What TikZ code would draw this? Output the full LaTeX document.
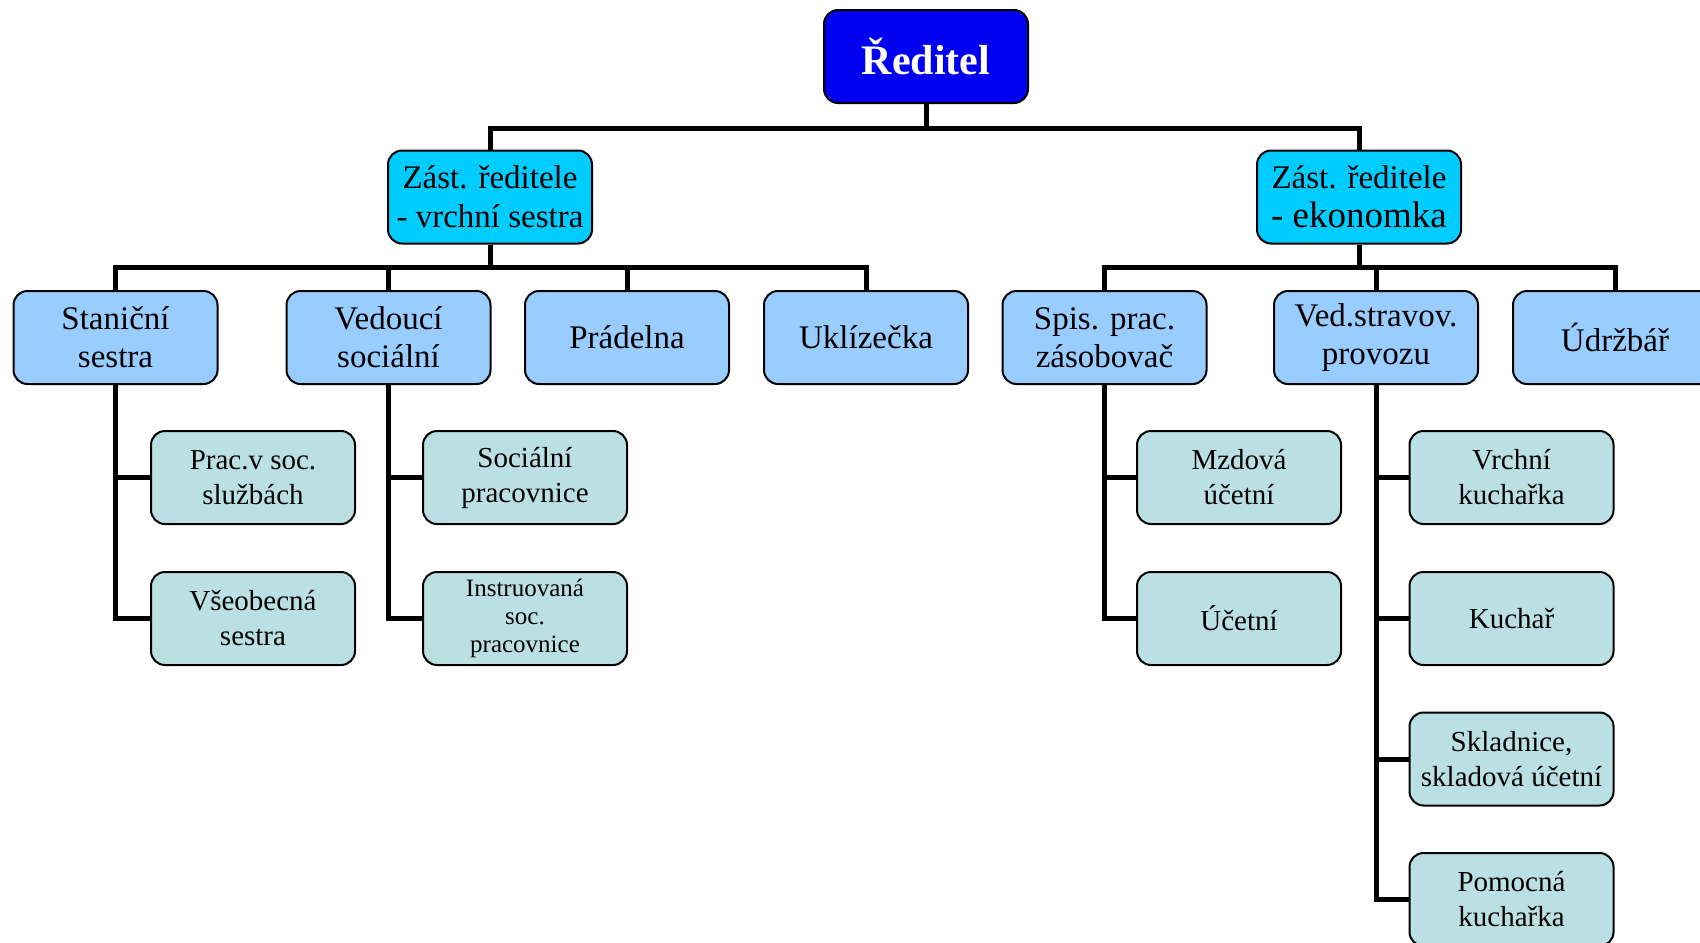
\documentclass[tikz,border=0pt]{standalone}
\usepackage{fontspec}
\setmainfont{Liberation Serif}
\begin{document}
\begin{tikzpicture}[x=0.5pt,y=-0.5pt,
    box/.style={draw=black,line width=1pt,rounded corners=7pt,align=center,
        minimum width=102pt,minimum height=46.5pt,inner sep=1pt},
    lvlboss/.style={box,fill=bossblue,text=white,font=\bfseries\fontsize{21}{24}\selectfont},
    lvldep/.style={box,fill=depcyan,font=\fontsize{16.5}{19.5}\selectfont},
    lvlhead/.style={box,fill=headblue,font=\fontsize{16.5}{19}\selectfont},
    lvlstaff/.style={box,fill=staffteal,font=\fontsize{14.5}{17.5}\selectfont},
    conn/.style={line width=2.5pt}]
    %barvy
    \definecolor{bossblue}{RGB}{0,0,240}
    \definecolor{depcyan}{RGB}{0,204,255}
    \definecolor{headblue}{RGB}{153,204,255}
    \definecolor{staffteal}{RGB}{187,224,227}

    \useasboundingbox (0,0) rectangle (1700,942);

    % reditel a zastupci
    \node[lvlboss] (red) at (926,56.5) {Ředitel};
    \node[lvldep] (zv) at (490,197) {Zást. ředitele\\- vrchní sestra};
    \node[lvldep] (ze) at (1359,197) {Zást. ředitele\\{\fontsize{18.5}{20}\selectfont - ekonomka}\hspace{6pt}};

    % vedouci useku
    \node[lvlhead] (stan) at (115.5,337.5) {Staniční\\sestra};
    \node[lvlhead] (ved) at (388.5,337.5) {Vedoucí\\sociální};
    \node[lvlhead] (prad) at (627,337.5) {Prádelna};
    \node[lvlhead] (ukl) at (866,337.5) {Uklízečka};
    \node[lvlhead] (spis) at (1104.5,337.5) {Spis. prac.\\zásobovač};
    \node[lvlhead] (stra) at (1376,337.5) {Ved.stravov.\\provozu};
    \node[lvlhead] (udr) at (1615,337.5) {Údržbář};

    % pracovnici
    \node[lvlstaff] (prac) at (253,477.5) {Prac.v soc.\\službách};
    \node[lvlstaff] (vseo) at (253,618.5) {Všeobecná\\sestra};
    \node[lvlstaff] (soc) at (525,477.5) {Sociální\\pracovnice};
    \node[lvlstaff,font=\fontsize{12.5}{14}\selectfont] (instr) at (525,618.5) {Instruovaná\\soc.\\pracovnice};
    \node[lvlstaff] (mzd) at (1239,477.5) {Mzdová\\účetní};
    \node[lvlstaff] (uce) at (1239,618.5) {Účetní};
    \node[lvlstaff] (vrk) at (1511.5,477.5) {Vrchní\\kuchařka};
    \node[lvlstaff] (kuch) at (1511.5,618.5) {Kuchař};
    \node[lvlstaff] (skl) at (1511.5,759) {Skladnice,\\skladová účetní};
    \node[lvlstaff] (pom) at (1511.5,899.5) {Pomocná\\kuchařka};

    % spojnice
    \coordinate (bus1) at (926,128);
    \coordinate (bus2) at (490,267);
    \coordinate (bus3) at (1359,267);
    \draw[conn] (red.south) -- (red.south |- bus1) -| (zv.north);
    \draw[conn] (red.south |- bus1) -| (ze.north);
    \foreach \n in {stan,ved,prad,ukl}
        \draw[conn] (zv.south) -- (zv.south |- bus2) -| (\n.north);
    \foreach \n in {spis,stra,udr}
        \draw[conn] (ze.south) -- (ze.south |- bus3) -| (\n.north);
    \foreach \p/\c in {stan/prac,stan/vseo,ved/soc,ved/instr,spis/mzd,spis/uce,
        stra/vrk,stra/kuch,stra/skl,stra/pom}
        \draw[conn] (\p.south) |- (\c.west);
\end{tikzpicture}
\end{document}
